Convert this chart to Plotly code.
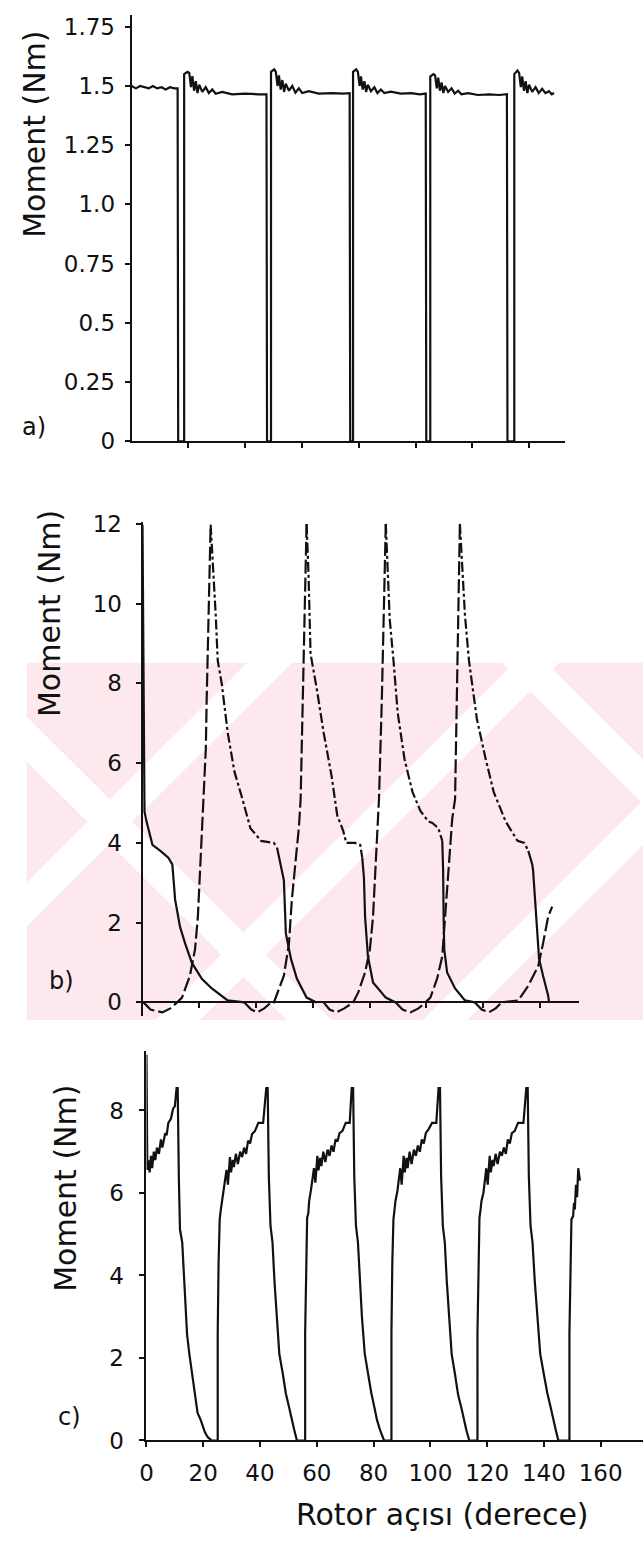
import plotly.graph_objects as go

W, H = 643, 1548

# ---------------- DATA ----------------
# Panel a) : torque (Nm) vs rotor angle (deg)
a_x_c0 = [0.0, 1.5, 3.0, 4.5, 6.0, 7.5, 9.0, 10.5, 12.0, 13.5, 15.0, 16.2, 16.4]
a_y_c0 = [1.50, 1.49, 1.50, 1.495, 1.49, 1.50, 1.49, 1.495, 1.485, 1.495, 1.49, 1.49, 0.0]
a_x_c1 = [18.5, 18.5, 19.7, 20.3, 20.9, 21.4, 22.0, 22.6, 23.2, 23.8, 24.9, 26.1, 27.2, 28.4, 29.6, 31.9, 35.4, 40.0, 44.7, 47.5, 47.7]
a_y_c1 = [0.0, 1.55, 1.56, 1.555, 1.495, 1.542, 1.48, 1.52, 1.47, 1.505, 1.475, 1.495, 1.47, 1.485, 1.467, 1.475, 1.465, 1.468, 1.465, 1.465, 0.0]
a_x_c2 = [49.1, 49.1, 50.2, 50.8, 51.4, 51.9, 52.5, 53.1, 53.7, 54.3, 55.4, 56.6, 57.7, 58.9, 60.1, 62.4, 65.9, 70.5, 74.5, 76.8, 77.0]
a_y_c2 = [0.0, 1.56, 1.57, 1.56, 1.50, 1.545, 1.485, 1.525, 1.475, 1.51, 1.48, 1.50, 1.472, 1.49, 1.47, 1.478, 1.468, 1.47, 1.468, 1.47, 0.0]
a_x_c3 = [78.0, 78.0, 79.1, 79.7, 80.3, 80.8, 81.4, 82.0, 82.6, 83.2, 84.3, 85.5, 86.6, 87.8, 89.0, 91.3, 94.8, 98.5, 101.5, 103.6, 103.8]
a_y_c3 = [0.0, 1.56, 1.57, 1.56, 1.50, 1.54, 1.485, 1.52, 1.475, 1.505, 1.478, 1.495, 1.47, 1.485, 1.47, 1.476, 1.468, 1.47, 1.465, 1.468, 0.0]
a_x_c4 = [105.2, 105.2, 106.3, 106.9, 107.5, 108.0, 108.6, 109.2, 109.8, 110.4, 111.5, 112.7, 113.8, 115.0, 116.2, 118.5, 122.0, 126.0, 129.5, 132.2, 132.4]
a_y_c4 = [0.0, 1.54, 1.55, 1.545, 1.49, 1.535, 1.48, 1.515, 1.47, 1.50, 1.475, 1.49, 1.468, 1.48, 1.465, 1.47, 1.462, 1.465, 1.462, 1.465, 0.0]
a_x_c5 = [134.8, 134.8, 135.9, 136.5, 137.1, 137.6, 138.2, 138.8, 139.4, 140.0, 141.1, 142.3, 143.4, 144.6, 145.8, 147.0, 148.0, 148.8]
a_y_c5 = [0.0, 1.55, 1.565, 1.555, 1.495, 1.54, 1.48, 1.52, 1.47, 1.505, 1.475, 1.495, 1.47, 1.488, 1.47, 1.478, 1.465, 1.47]

# Panel b) : phase torques, grouped by line style (segments)
b_solid_x = [
    [0.0, 0.35, 0.7, 1.4, 3.5, 6.3, 9.1, 10.5, 11.5, 13.2, 15.0, 17.4, 20.9, 24.4, 30.0, 35.9],
    [47.4, 49.8, 50.5, 52.3, 54.4, 57.8, 61.3],
    [77.4, 78.0, 78.4, 79.4, 81.2, 85.7, 89.2],
    [105.6, 105.9, 106.1, 106.3, 107.3, 110.1, 113.6, 117.1],
    [135.9, 137.3, 137.6, 138.7, 139.4, 139.7, 141.1, 142.9, 143.2],
]
b_solid_y = [
    [11.98, 9.0, 4.79, 4.54, 3.95, 3.8, 3.63, 3.46, 2.57, 1.9, 1.48, 0.99, 0.59, 0.35, 0.05, 0.0],
    [3.88, 3.06, 1.73, 1.09, 0.59, 0.12, 0.0],
    [3.63, 3.14, 2.15, 1.16, 0.5, 0.12, 0.0],
    [4.05, 3.3, 2.0, 1.33, 0.75, 0.35, 0.05, 0.0],
    [3.8, 3.46, 3.3, 2.15, 1.48, 1.09, 0.67, 0.17, 0.0],
]
b_dash_x = [
    [0.35, 2.8, 7.0, 9.8, 12.2, 13.9, 16.7, 18.5, 19.5, 20.2, 20.9, 22.3, 22.6, 23.3, 24.0],
    [35.9, 38.3, 40.4, 42.9, 45.3, 46.3, 49.8, 51.6, 52.6, 54.0, 55.1, 55.7, 56.4, 57.1, 57.8],
    [63.8, 65.9, 68.3, 71.1, 74.2, 76.0, 78.4, 80.1, 81.2, 82.2, 82.9, 83.3, 84.3, 85.0, 85.7],
    [89.2, 91.6, 94.4, 97.2, 99.7, 101.4, 103.8, 105.6, 106.6, 108.0, 109.1, 110.1, 110.8, 111.1, 111.8],
    [117.1, 119.5, 122.0, 124.4, 126.5, 132.4, 135.9, 139.4, 141.1, 142.9, 144.3],
]
b_dash_y = [
    [0.0, -0.18, -0.25, -0.15, 0.0, 0.12, 0.67, 1.33, 2.15, 3.14, 4.3, 6.35, 7.58, 9.48, 11.98],
    [0.0, -0.18, -0.25, -0.15, 0.0, 0.0, 0.67, 1.48, 2.57, 3.63, 4.4, 5.1, 7.58, 9.56, 12.0],
    [0.0, -0.18, -0.25, -0.15, 0.0, 0.25, 0.75, 1.33, 2.15, 3.4, 4.6, 5.1, 7.58, 9.56, 12.0],
    [0.0, -0.18, -0.25, -0.15, 0.0, 0.12, 0.6, 1.16, 2.15, 3.4, 4.6, 5.1, 7.58, 9.56, 12.0],
    [0.0, -0.18, -0.25, -0.15, 0.0, 0.05, 0.42, 0.91, 1.48, 2.15, 2.4],
]
b_dashdot_x = [
    [24.0, 25.1, 25.8, 26.5, 27.9, 30.0, 32.4, 35.2, 38.0, 41.8, 46.3, 47.4],
    [57.8, 58.5, 59.2, 61.3, 63.8, 66.6, 68.6, 70.7, 71.8, 74.9, 76.7, 77.4],
    [85.7, 86.4, 87.1, 88.5, 89.9, 92.3, 95.1, 97.9, 100.7, 102.1, 104.2, 105.6],
    [111.8, 112.9, 113.6, 115.0, 117.8, 120.9, 123.7, 127.9, 132.1, 134.5, 135.9],
]
b_dashdot_y = [
    [11.98, 10.7, 9.7, 8.57, 8.0, 6.77, 5.78, 5.1, 4.37, 4.05, 4.0, 3.88],
    [12.0, 10.7, 8.74, 7.9, 6.77, 5.68, 4.69, 4.3, 4.0, 4.0, 3.95, 3.63],
    [12.0, 10.7, 9.6, 8.5, 7.26, 6.1, 5.28, 4.8, 4.54, 4.5, 4.37, 4.05],
    [12.0, 10.7, 9.7, 8.57, 7.1, 6.1, 5.28, 4.54, 4.05, 4.0, 3.8],
]

# Panel c)
c_x_c0 = [0.0, 0.3, 0.8, 1.1, 1.6, 2.0, 2.6, 3.1, 3.7, 4.4, 5.1, 5.6, 6.6, 7.1, 7.7, 8.6, 9.4, 10.0, 10.6, 11.0,
          11.4, 11.8, 12.6, 13.7, 14.3, 15.1, 16.0, 17.0, 18.0, 19.1, 20.0, 20.6, 21.6, 23.0]
c_y_c0 = [9.35, 6.56, 6.79, 6.5, 6.9, 6.6, 7.0, 6.8, 7.1, 6.95, 7.3, 7.1, 7.45, 7.4, 7.7, 7.8, 8.05, 8.1, 8.54, 8.54,
          6.4, 5.12, 4.8, 3.2, 2.57, 2.1, 1.63, 1.14, 0.67, 0.5, 0.3, 0.2, 0.08, 0.0]
c_x_c1 = [25.1, 25.1, 25.4, 25.8, 26.2, 26.5, 27.2, 27.7, 28.2, 28.7, 29.1, 29.4, 29.8, 30.4, 30.8, 31.5, 32.2, 33.0,
          33.7, 34.4, 35.1, 35.8, 36.5, 37.2, 38.2, 39.4, 41.1, 41.7, 42.2, 42.7, 43.1, 43.7, 44.4, 45.1, 45.8, 46.8,
          48.0, 49.1, 50.2, 51.1, 52.0, 53.0]
c_y_c1 = [0.0, 2.6, 4.3, 5.36, 5.6, 5.76, 6.0, 6.3, 6.56, 6.2, 6.7, 6.87, 6.5, 6.8, 6.63, 6.95, 6.7, 7.0, 6.87, 7.1,
          6.95, 7.27, 7.2, 7.43, 7.5, 7.7, 7.7, 8.07, 8.54, 8.54, 6.4, 5.2, 4.8, 3.85, 3.05, 2.1, 1.63, 1.14, 0.82,
          0.5, 0.27, 0.0]
c_x_c2 = [55.9, 55.9, 56.2, 56.6, 57.0, 57.3, 58.0, 58.5, 59.0, 59.5, 59.9, 60.2, 60.6, 61.2, 61.6, 62.3, 63.0, 63.8,
          64.5, 65.2, 65.9, 66.6, 67.3, 68.0, 69.0, 70.2, 71.6, 72.0, 72.3, 72.8, 73.2, 73.8, 74.5, 75.2, 75.9, 76.9,
          78.1, 79.2, 80.3, 81.2, 82.3, 83.7]
c_y_c2 = [0.0, 2.6, 4.3, 5.4, 5.5, 5.8, 6.1, 6.3, 6.6, 6.25, 6.75, 6.9, 6.55, 6.85, 6.65, 7.0, 6.75, 7.05, 6.9, 7.15,
          7.0, 7.3, 7.25, 7.45, 7.5, 7.7, 7.7, 8.1, 8.54, 8.54, 6.4, 5.2, 4.8, 3.9, 3.0, 2.1, 1.6, 1.15, 0.8, 0.5,
          0.25, 0.0]
c_x_c3 = [86.3, 86.3, 86.6, 87.0, 87.4, 87.7, 88.4, 88.9, 89.4, 89.9, 90.3, 90.6, 91.0, 91.6, 92.0, 92.7, 93.4, 94.2,
          94.9, 95.6, 96.3, 97.0, 97.7, 98.4, 99.4, 100.6, 102.1, 102.5, 102.9, 103.4, 103.8, 104.4, 105.1, 105.8,
          106.5, 107.5, 108.7, 109.8, 110.9, 111.8, 112.7, 113.7]
c_y_c3 = [0.0, 2.6, 4.3, 5.36, 5.6, 5.8, 6.05, 6.3, 6.6, 6.2, 6.75, 6.9, 6.5, 6.85, 6.6, 7.0, 6.7, 7.05, 6.9, 7.15,
          7.0, 7.3, 7.2, 7.45, 7.55, 7.7, 7.7, 8.1, 8.54, 8.54, 6.4, 5.2, 4.8, 3.85, 3.05, 2.1, 1.6, 1.1, 0.8, 0.5,
          0.25, 0.0]
c_x_c4 = [116.6, 116.6, 116.9, 117.3, 117.7, 118.0, 118.7, 119.2, 119.7, 120.2, 120.6, 120.9, 121.3, 121.9, 122.3,
          123.0, 123.7, 124.5, 125.2, 125.9, 126.6, 127.3, 128.0, 128.7, 129.7, 130.9, 132.8, 133.3, 133.8, 134.3,
          134.7, 135.3, 136.0, 136.8, 137.6, 138.7, 140.0, 141.2, 142.4, 143.3, 144.2, 145.1]
c_y_c4 = [0.0, 2.6, 4.3, 5.4, 5.6, 5.8, 6.0, 6.3, 6.6, 6.2, 6.7, 6.9, 6.5, 6.8, 6.65, 6.95, 6.7, 7.0, 6.9, 7.1,
          6.95, 7.3, 7.2, 7.45, 7.5, 7.7, 7.7, 8.1, 8.54, 8.54, 6.4, 5.2, 4.8, 3.85, 3.05, 2.1, 1.6, 1.15, 0.8, 0.5,
          0.25, 0.0]
c_x_c5 = [149.0, 149.0, 149.3, 149.7, 150.3, 150.6, 150.9, 151.3, 151.7, 152.1, 152.7]
c_y_c5 = [0.0, 2.6, 4.3, 5.36, 5.44, 5.76, 5.6, 6.2, 5.9, 6.6, 6.3]

a_ticks = [0, 0.25, 0.5, 0.75, 1.0, 1.25, 1.5, 1.75]
a_ticktext = ["0", "0.25", "0.5", "0.75", "1.0", "1.25", "1.5", "1.75"]
b_ticks = [0, 2, 4, 6, 8, 10, 12]
c_ticks = [0, 2, 4, 6, 8]
angle_ticks = [0, 20, 40, 60, 80, 100, 120, 140, 160]

# ---------------- helpers ----------------
def join(xs_list, ys_list):
    X, Y = [], []
    for xs, ys in zip(xs_list, ys_list):
        assert len(xs) == len(ys)
        X += list(xs) + [None]
        Y += list(ys) + [None]
    return X, Y

a_x, a_y = [], []
for xs, ys in [(a_x_c0, a_y_c0), (a_x_c1, a_y_c1), (a_x_c2, a_y_c2), (a_x_c3, a_y_c3), (a_x_c4, a_y_c4), (a_x_c5, a_y_c5)]:
    assert len(xs) == len(ys)
    a_x += xs
    a_y += ys
c_x, c_y = [], []
for xs, ys in [(c_x_c0, c_y_c0), (c_x_c1, c_y_c1), (c_x_c2, c_y_c2), (c_x_c3, c_y_c3), (c_x_c4, c_y_c4), (c_x_c5, c_y_c5)]:
    assert len(xs) == len(ys)
    c_x += xs
    c_y += ys

bs_x, bs_y = join(b_solid_x, b_solid_y)
bd_x, bd_y = join(b_dash_x, b_dash_y)
bdd_x, bdd_y = join(b_dashdot_x, b_dashdot_y)

INK = "#111111"
LW = 2.2

fig = go.Figure()
fig.add_trace(go.Scatter(x=a_x, y=a_y, mode="lines", line=dict(color=INK, width=LW), xaxis="x", yaxis="y"))
fig.add_trace(go.Scatter(x=bs_x, y=bs_y, mode="lines", line=dict(color=INK, width=LW), xaxis="x2", yaxis="y2"))
fig.add_trace(go.Scatter(x=bd_x, y=bd_y, mode="lines", line=dict(color=INK, width=LW, dash="14px,4px"), xaxis="x2", yaxis="y2"))
fig.add_trace(go.Scatter(x=bdd_x, y=bdd_y, mode="lines", line=dict(color=INK, width=LW, dash="10px,3px,3px,3px"), xaxis="x2", yaxis="y2"))
fig.add_trace(go.Scatter(x=c_x, y=c_y, mode="lines", line=dict(color=INK, width=LW), xaxis="x3", yaxis="y3"))

# ---------------- layout (pixel geometry) ----------------
def px_x(x):
    return x / W

def px_y(y):
    return 1 - y / H

FONT = "DejaVu Sans"
tickfont = dict(family=FONT, size=23, color=INK)
common = dict(showline=True, linecolor=INK, linewidth=2, ticks="outside", tickcolor=INK, ticklen=5,
              tickwidth=1.5, showgrid=False, zeroline=False, tickfont=tickfont)

# panel a geometry
a_left, a_right, a_zero, a_top = 126, 564, 437, 4
a_ymax = 1.80
# panel b
b_left, b_right = 137, 578
b_zero, b_unit = 1007, 40.5
b_ymin, b_ymax = -0.35, 12.05
# panel c
c_left, c_right, c_zero, c_unit = 141, 643, 1452, 41.9
c_ymax = 9.45
deg_px = 2.87

fig.update_layout(
    width=W, height=H,
    margin=dict(l=0, r=0, t=0, b=0),
    paper_bgcolor="white", plot_bgcolor="rgba(0,0,0,0)",
    showlegend=False,
    xaxis=dict(common, domain=[px_x(a_left), px_x(a_right)], range=[0, (a_right - a_left) / deg_px],
               anchor="y", tickvals=angle_ticks[1:8], showticklabels=False),
    yaxis=dict(common, domain=[px_y(a_zero), px_y(a_top)], range=[0, a_ymax], anchor="x",
               tickvals=a_ticks, ticktext=a_ticktext, ticklabelstandoff=5),
    xaxis2=dict(common, domain=[px_x(b_left), px_x(b_right)], range=[0, (b_right - b_left) / deg_px],
                anchor="free", position=px_y(b_zero), tickvals=angle_ticks[1:8], showticklabels=False),
    yaxis2=dict(common, domain=[px_y(b_zero - b_ymin * b_unit), px_y(b_zero - b_ymax * b_unit)],
                range=[b_ymin, b_ymax], anchor="x2", tickvals=b_ticks, ticklabelstandoff=9),
    xaxis3=dict(common, domain=[px_x(c_left), px_x(c_right)], range=[0, (c_right - c_left) / deg_px],
                anchor="y3", tickvals=angle_ticks, ticklabelstandoff=6),
    yaxis3=dict(common, domain=[px_y(c_zero), px_y(c_zero - c_ymax * c_unit)], range=[0, c_ymax],
                anchor="x3", tickvals=c_ticks, ticklabelstandoff=11),
)

# faint pink watermark in the background (decoration)
PINK = "#fde9ed"
shapes = [dict(type="rect", xref="paper", yref="paper", x0=px_x(20), x1=1.0, y0=px_y(1025), y1=px_y(662),
               fillcolor=PINK, line=dict(width=0), layer="below")]

def poly(pts):
    return "M " + " L ".join(f"{px_x(x):.5f},{px_y(y):.5f}" for x, y in pts) + " Z"

band_h = 1025 - 662
sw = 45
for a0 in [-120, 150, 420]:
    pts = [(a0, 1025), (a0 + sw, 1025), (a0 + sw + band_h, 662), (a0 + band_h, 662)]
    shapes.append(dict(type="path", xref="paper", yref="paper", path=poly(pts), fillcolor="white",
                       line=dict(width=0), layer="below"))
for b0 in [-80, 500]:
    pts = [(b0, 662), (b0 + sw, 662), (b0 + sw + band_h, 1025), (b0 + band_h, 1025)]
    shapes.append(dict(type="path", xref="paper", yref="paper", path=poly(pts), fillcolor="white",
                       line=dict(width=0), layer="below"))
fig.update_layout(shapes=shapes)

title_font = dict(family=FONT, size=30, color=INK)
label_font = dict(family=FONT, size=24, color=INK)
ann = []
for (x, y) in [(27, 125), (43, 612), (59, 1196)]:
    ann.append(dict(text="Moment (Nm)", x=px_x(x), y=px_y(y), xref="paper", yref="paper", showarrow=False,
                    textangle=-90, font=title_font, xanchor="center", yanchor="middle"))
ann.append(dict(text="Rotor açısı (derece)", x=px_x(440), y=px_y(1527), xref="paper", yref="paper",
                showarrow=False, font=dict(family=FONT, size=30, color=INK), xanchor="center", yanchor="middle"))
for t, (x, y) in [("a)", (27, 423)), ("b)", (55, 985)), ("c)", (63, 1428))]:
    ann.append(dict(text=t, x=px_x(x), y=px_y(y), xref="paper", yref="paper", showarrow=False,
                    font=label_font, xanchor="center", yanchor="middle"))
fig.update_layout(annotations=ann)

fig.write_html("out.html", config={"displayModeBar": False},
               post_script="document.body.style.margin='0px'; document.body.style.overflow='hidden';")
